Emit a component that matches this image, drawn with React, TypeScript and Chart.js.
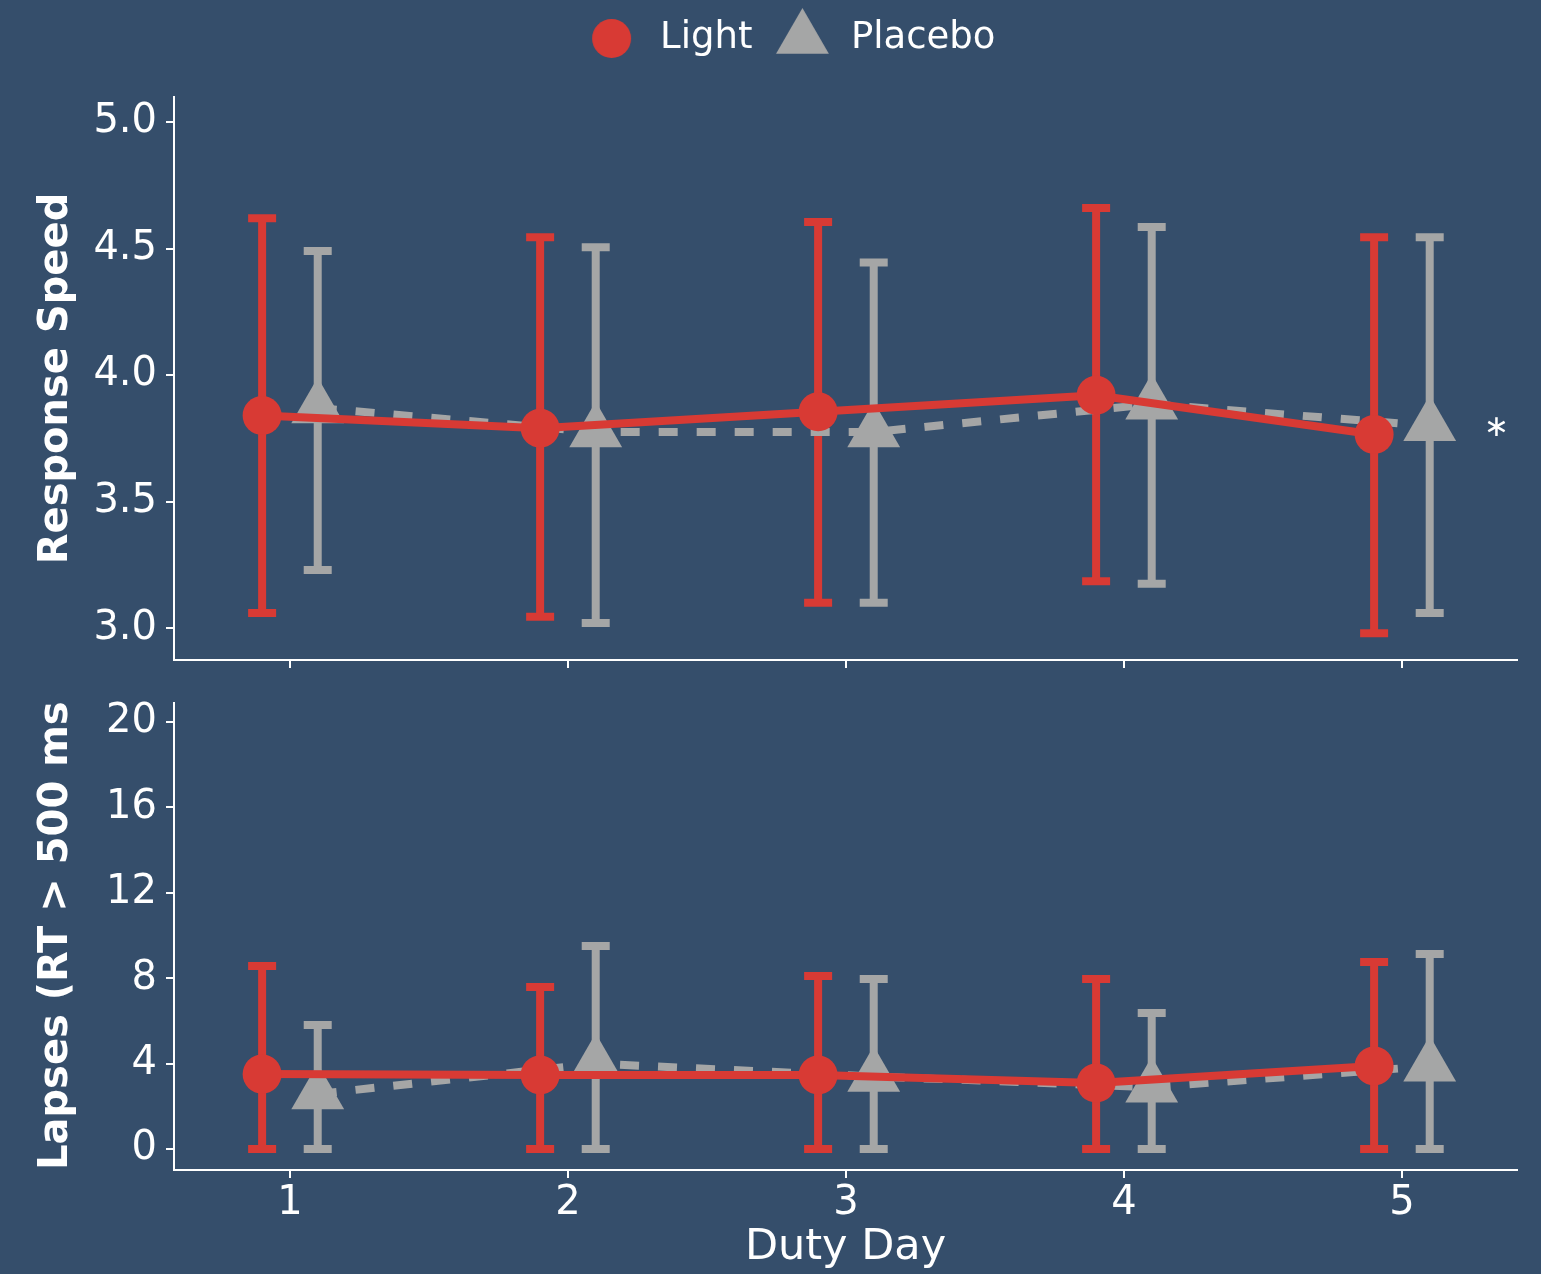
import React, { useEffect, useRef } from 'react';
import { Chart, registerables } from 'chart.js';

Chart.register(...registerables);

// ---------- data ----------
const days = [1, 2, 3, 4, 5];
const seriesNames = ['Light', 'Placebo'];

const lightSpeed = [3.84, 3.79, 3.855, 3.92, 3.765];
const lightSpeedLo = [3.06, 3.045, 3.1, 3.185, 2.98];
const lightSpeedHi = [4.62, 4.545, 4.605, 4.66, 4.545];
const placeboSpeed = [3.87, 3.775, 3.775, 3.885, 3.8];
const placeboSpeedLo = [3.23, 3.02, 3.1, 3.175, 3.06];
const placeboSpeedHi = [4.49, 4.505, 4.445, 4.585, 4.545];

const lightLapses = [3.51, 3.47, 3.47, 3.09, 3.89];
const lightLapsesLo = [0, 0, 0, 0, 0];
const lightLapsesHi = [8.57, 7.59, 8.1, 7.96, 8.76];
const placeboLapses = [2.58, 4.0, 3.4, 2.9, 3.88];
const placeboLapsesLo = [0, 0, 0, 0, 0];
const placeboLapsesHi = [5.81, 9.51, 7.96, 6.37, 9.13];

const speedTicks = [3.0, 3.5, 4.0, 4.5, 5.0];
const lapsesTicks = [0, 4, 8, 12, 16, 20];

const speedTitle = 'Response Speed';
const lapsesTitle = 'Lapses (RT > 500 ms)';
const xTitle = 'Duty Day';
const speedAnnotation = { x: 5.34, y: 3.79, text: '\u2217' };

// ---------- style ----------
const BG = '#354e6b';
const RED = '#d83a34';
const GRAY = '#a5a6a6';
const WHITE = '#ffffff';
const FONT = '"DejaVu Sans", sans-serif';
const DODGE = 0.1;
const X_MIN = 0.583;
const X_MAX = 5.414;

Chart.defaults.font.family = FONT;

function markerCanvas(kind: 'circle' | 'triangle', r: number, color: string) {
  const c = document.createElement('canvas');
  const size = Math.ceil(r * 2) + 4;
  c.width = size;
  c.height = size;
  const ctx = c.getContext('2d')!;
  const cx = size / 2;
  const cy = size / 2;
  ctx.fillStyle = color;
  ctx.beginPath();
  if (kind === 'circle') {
    ctx.arc(cx, cy, r, 0, Math.PI * 2);
  } else {
    const s = Math.sin(Math.PI / 3) * r;
    ctx.moveTo(cx, cy - r);
    ctx.lineTo(cx + s, cy + r / 2);
    ctx.lineTo(cx - s, cy + r / 2);
    ctx.closePath();
  }
  ctx.fill();
  return c;
}

const errorBars = {
  id: 'errorBars',
  beforeDatasetsDraw(chart: any) {
    const ctx = chart.ctx;
    const y = chart.scales.y;
    for (let i = chart.data.datasets.length - 1; i >= 0; i--) {
      const ds: any = chart.data.datasets[i];
      const meta = chart.getDatasetMeta(i);
      ctx.save();
      ctx.strokeStyle = ds.borderColor;
      ctx.lineWidth = 8;
      ctx.lineCap = 'butt';
      meta.data.forEach((pt: any, j: number) => {
        const x = pt.x;
        const lo = y.getPixelForValue(ds.errLo[j]);
        const hi = y.getPixelForValue(ds.errHi[j]);
        ctx.beginPath();
        ctx.moveTo(x, lo);
        ctx.lineTo(x, hi);
        ctx.moveTo(x - 14, lo);
        ctx.lineTo(x + 14, lo);
        ctx.moveTo(x - 14, hi);
        ctx.lineTo(x + 14, hi);
        ctx.stroke();
      });
      ctx.restore();
    }
  },
};

function makeDatasets(
  light: number[], lightLo: number[], lightHi: number[],
  placebo: number[], placeboLo: number[], placeboHi: number[]
) {
  return [
    {
      label: seriesNames[0],
      data: days.map((d, i) => ({ x: d - DODGE, y: light[i] })),
      errLo: lightLo,
      errHi: lightHi,
      borderColor: RED,
      backgroundColor: RED,
      borderWidth: 8,
      pointStyle: 'circle',
      pointRadius: 19.5,
      pointHoverRadius: 19.5,
      pointBorderWidth: 0,
      pointBackgroundColor: RED,
      tension: 0,
      fill: false,
      clip: false,
    },
    {
      label: seriesNames[1],
      data: days.map((d, i) => ({ x: d + DODGE, y: placebo[i] })),
      errLo: placeboLo,
      errHi: placeboHi,
      borderColor: GRAY,
      backgroundColor: GRAY,
      borderWidth: 8,
      borderDash: [19, 19],
      borderCapStyle: 'butt',
      pointStyle: 'triangle',
      pointRadius: 30.5,
      pointHoverRadius: 30.5,
      pointBorderWidth: 0,
      pointBackgroundColor: GRAY,
      tension: 0,
      fill: false,
      clip: false,
    },
  ];
}

const axisGrid = {
  display: true,
  drawOnChartArea: false,
  drawTicks: true,
  tickLength: 8,
  color: WHITE,
  lineWidth: 2,
};
const axisBorder = { display: true, color: WHITE, width: 2 };

export default function App() {
  const topRef = useRef<HTMLCanvasElement>(null);
  const botRef = useRef<HTMLCanvasElement>(null);

  useEffect(() => {
    const legendMarkers = [markerCanvas('circle', 19.5, RED), markerCanvas('triangle', 30.5, GRAY)];

    const legendShift = {
      id: 'legendShift',
      afterLayout(chart: any) {
        if (chart.legend) {
          chart.legend.left += 30;
          chart.legend.right += 30;
        }
      },
    };

    const annotationPlugin = {
      id: 'annot',
      afterDraw(chart: any) {
        const ctx = chart.ctx;
        const px = chart.scales.x.getPixelForValue(speedAnnotation.x);
        const py = chart.scales.y.getPixelForValue(speedAnnotation.y);
        ctx.save();
        ctx.fillStyle = WHITE;
        ctx.font = `30px ${FONT}`;
        ctx.textAlign = 'center';
        ctx.textBaseline = 'middle';
        ctx.fillText(speedAnnotation.text, px, py);
        ctx.restore();
      },
    };

    const c1 = new Chart(topRef.current!, {
      type: 'line',
      data: {
        datasets: makeDatasets(lightSpeed, lightSpeedLo, lightSpeedHi, placeboSpeed, placeboSpeedLo, placeboSpeedHi) as any,
      },
      options: {
        responsive: false,
        animation: false,
        layout: { autoPadding: false, padding: { top: 0, right: 24, left: 0, bottom: 0 } },
        plugins: {
          legend: {
            position: 'top',
            labels: {
              font: { size: 37, family: FONT },
              color: WHITE,
              usePointStyle: true,
              pointStyleWidth: 60,
              padding: 20,
              generateLabels: (chart: any) =>
                chart.data.datasets.map((ds: any, i: number) => ({
                  text: ds.label,
                  fillStyle: ds.backgroundColor,
                  strokeStyle: ds.borderColor,
                  lineWidth: 0,
                  pointStyle: legendMarkers[i],
                  hidden: false,
                  datasetIndex: i,
                  fontColor: WHITE,
                })),
            },
          },
          title: {
            display: true,
            text: '',
            weight: 500,
            padding: { top: 9, bottom: 9 },
            font: { size: 10 },
          } as any,
          tooltip: { enabled: false },
        },
        scales: {
          x: {
            type: 'linear',
            min: X_MIN,
            max: X_MAX,
            afterBuildTicks: (s: any) => {
              s.ticks = days.map((v) => ({ value: v }));
            },
            ticks: { display: false },
            grid: axisGrid,
            border: axisBorder,
            afterFit: (s: any) => {
              s.height = 38;
              s.paddingLeft = 0;
              s.paddingRight = 0;
            },
          },
          y: {
            type: 'linear',
            min: 2.874,
            max: 5.099,
            afterBuildTicks: (s: any) => {
              s.ticks = speedTicks.map((v) => ({ value: v }));
            },
            ticks: {
              callback: (v: any) => Number(v).toFixed(1),
              font: { size: 40, family: FONT },
              color: WHITE,
              padding: 9,
            },
            title: {
              display: true,
              text: speedTitle,
              color: WHITE,
              font: { size: 40, weight: 'bold', family: FONT },
              padding: { top: 33, bottom: 0 },
            },
            grid: axisGrid,
            border: axisBorder,
            afterFit: (s: any) => {
              s.width = 174;
              s.paddingTop = 0;
              s.paddingBottom = 0;
            },
          },
        },
      } as any,
      plugins: [errorBars, legendShift, annotationPlugin],
    });

    const yTitlePlugin = {
      id: 'yTitle',
      afterDraw(chart: any) {
        const ctx = chart.ctx;
        const y = chart.scales.y;
        ctx.save();
        ctx.fillStyle = WHITE;
        ctx.font = `bold 40px ${FONT}`;
        ctx.textAlign = 'left';
        ctx.textBaseline = 'middle';
        ctx.translate(57, y.bottom);
        ctx.rotate(-Math.PI / 2);
        ctx.fillText(lapsesTitle, 0, 0);
        ctx.restore();
      },
    };

    const c2 = new Chart(botRef.current!, {
      type: 'line',
      data: {
        datasets: makeDatasets(lightLapses, lightLapsesLo, lightLapsesHi, placeboLapses, placeboLapsesLo, placeboLapsesHi) as any,
      },
      options: {
        responsive: false,
        animation: false,
        layout: { autoPadding: false, padding: { top: 5, right: 24, left: 0, bottom: 0 } },
        plugins: {
          legend: { display: false },
          title: { display: false },
          tooltip: { enabled: false },
        },
        scales: {
          x: {
            type: 'linear',
            min: X_MIN,
            max: X_MAX,
            afterBuildTicks: (s: any) => {
              s.ticks = days.map((v) => ({ value: v }));
            },
            ticks: {
              callback: (v: any) => String(v),
              font: { size: 40, family: FONT },
              color: WHITE,
              padding: 2,
            },
            title: {
              display: true,
              text: xTitle,
              color: WHITE,
              font: { size: 43, family: FONT },
              padding: { top: 0, bottom: 0 },
            },
            grid: axisGrid,
            border: axisBorder,
            afterFit: (s: any) => {
              s.height = 104;
              s.paddingLeft = 0;
              s.paddingRight = 0;
            },
          },
          y: {
            type: 'linear',
            min: -0.98,
            max: 20.89,
            afterBuildTicks: (s: any) => {
              s.ticks = lapsesTicks.map((v) => ({ value: v }));
            },
            ticks: {
              callback: (v: any) => String(v),
              font: { size: 40, family: FONT },
              color: WHITE,
              padding: 9,
            },
            title: { display: false },
            grid: axisGrid,
            border: axisBorder,
            afterFit: (s: any) => {
              s.width = 174;
              s.paddingTop = 0;
              s.paddingBottom = 0;
            },
          },
        },
      } as any,
      plugins: [errorBars, yTitlePlugin],
    });

    return () => {
      c1.destroy();
      c2.destroy();
    };
  }, []);

  return (
    <div
      style={{
        position: 'absolute',
        left: 0,
        top: 0,
        width: 1541,
        height: 1274,
        background: BG,
        overflow: 'hidden',
      }}
    >
      <canvas
        ref={topRef}
        width={1541}
        height={698}
        style={{ position: 'absolute', left: 0, top: 0, width: 1541, height: 698, display: 'block' }}
      />
      <canvas
        ref={botRef}
        width={1541}
        height={576}
        style={{ position: 'absolute', left: 0, top: 698, width: 1541, height: 576, display: 'block' }}
      />
    </div>
  );
}
